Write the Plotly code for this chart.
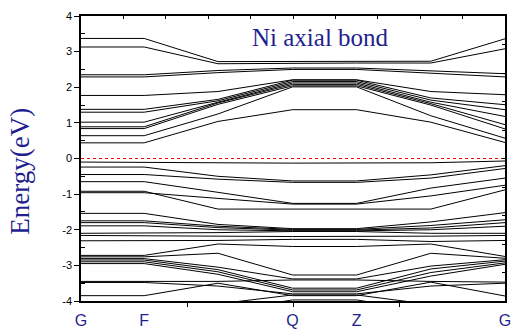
import plotly.graph_objects as go

# High-symmetry path (normalised k distance) and its labels
k_path = [0.0, 0.149, 0.323, 0.499, 0.650, 0.825, 1.0]
k_label_pos = [0.0, 0.149, 0.499, 0.650, 1.0]
k_label_txt = ["G", "F", "Q", "Z", "G"]

# Conduction bands (eV) at each point of k_path
c1 = [3.37, 3.37, 2.72, 2.73, 2.73, 2.73, 3.36]
c2 = [3.13, 3.13, 2.66, 2.68, 2.68, 2.68, 3.08]
c3 = [2.35, 2.35, 2.47, 2.54, 2.54, 2.46, 2.38]
c4 = [2.29, 2.29, 2.41, 2.50, 2.50, 2.40, 2.29]
c5 = [1.77, 1.77, 1.88, 2.21, 2.21, 1.88, 1.79]
c6 = [1.38, 1.38, 1.66, 2.20, 2.20, 1.70, 1.51]
c7 = [1.30, 1.30, 1.62, 2.16, 2.16, 1.64, 1.37]
c8 = [1.02, 1.02, 1.58, 2.12, 2.12, 1.58, 1.18]
c9 = [0.89, 0.89, 1.56, 2.08, 2.08, 1.54, 0.95]
c10 = [0.84, 0.84, 1.52, 2.04, 2.04, 1.50, 0.83]
c11 = [0.64, 0.64, 1.25, 2.01, 2.01, 1.20, 0.57]
c12 = [0.44, 0.44, 1.04, 1.37, 1.37, 1.02, 0.45]

# Valence bands (eV)
v1 = [-0.10, -0.10, -0.12, -0.13, -0.13, -0.12, -0.07]
v2 = [-0.24, -0.24, -0.50, -0.63, -0.63, -0.46, -0.20]
v3 = [-0.45, -0.45, -0.58, -0.67, -0.67, -0.55, -0.28]
v4 = [-0.65, -0.65, -0.95, -1.26, -1.26, -0.83, -0.55]
v5 = [-0.92, -0.92, -1.42, -1.42, -1.42, -1.42, -0.88]
v6 = [-0.96, -0.96, -1.12, -1.28, -1.28, -1.05, -0.75]
v7 = [-1.54, -1.54, -1.85, -1.97, -1.97, -1.78, -1.52]
v8 = [-1.75, -1.75, -1.90, -1.99, -1.99, -1.88, -1.72]
v9 = [-1.80, -1.80, -1.94, -2.01, -2.01, -1.95, -1.80]
v10 = [-1.89, -1.89, -2.00, -2.03, -2.03, -2.00, -1.90]
v11 = [-2.10, -2.10, -2.08, -2.05, -2.05, -2.10, -2.10]
v12 = [-2.16, -2.16, -2.18, -2.19, -2.19, -2.18, -2.16]
v13 = [-2.31, -2.31, -2.30, -2.27, -2.27, -2.33, -2.30]
v14 = [-2.72, -2.72, -2.40, -2.47, -2.47, -2.40, -2.75]
v15 = [-2.76, -2.76, -2.66, -3.27, -3.27, -2.66, -2.80]
v16 = [-2.81, -2.81, -3.05, -3.38, -3.38, -3.02, -2.84]
v17 = [-2.85, -2.85, -3.12, -3.64, -3.64, -3.10, -2.88]
v18 = [-2.90, -2.90, -3.18, -3.69, -3.69, -3.20, -2.93]
v19 = [-2.95, -2.95, -3.25, -3.74, -3.74, -3.30, -2.97]
v20 = [-3.45, -3.45, -3.45, -3.41, -3.41, -3.45, -3.47]
v21 = [-3.48, -3.48, -3.58, -3.80, -3.80, -3.58, -3.50]
v22 = [-3.85, -3.85, -3.50, -3.85, -3.85, -3.47, -3.86]
v23 = [-4.30, -4.30, -4.08, -3.83, -3.83, -4.10, -4.30]
v24 = [-4.50, -4.50, -4.30, -3.97, -3.97, -4.30, -4.50]

bands = [c1, c2, c3, c4, c5, c6, c7, c8, c9, c10, c11, c12,
         v1, v2, v3, v4, v5, v6, v7, v8, v9, v10, v11, v12,
         v13, v14, v15, v16, v17, v18, v19, v20, v21, v22, v23, v24]

y_ticks = [4, 3, 2, 1, 0, -1, -2, -3, -4]
y_tick_txt = ["4", "3", "2", "1", "0", "-1", "-2", "-3", "-4"]
fermi_level = 0.0

navy = "#1f1f8f"

fig = go.Figure()
for e in bands:
    fig.add_trace(go.Scatter(x=k_path, y=e, mode="lines",
                             line=dict(color="black", width=1),
                             hoverinfo="skip", showlegend=False))

# Fermi level
fig.add_trace(go.Scatter(x=[0, 1], y=[fermi_level, fermi_level], mode="lines",
                         line=dict(color="red", width=1, dash="dot"),
                         hoverinfo="skip", showlegend=False))

# helper trace so the top / right frame axes get drawn
fig.add_trace(go.Scatter(x=[0, 1], y=[0, 0], xaxis="x2", yaxis="y2",
                         mode="lines", line=dict(width=0), opacity=0,
                         hoverinfo="skip", showlegend=False))

fig.update_layout(
    width=512, height=329,
    margin=dict(l=81, r=7, t=16, b=28),
    paper_bgcolor="white", plot_bgcolor="white",
    xaxis=dict(range=[0, 1], tickmode="array", tickvals=k_label_pos,
               ticktext=k_label_txt, ticks="", showgrid=False, zeroline=False,
               automargin=False,
               showline=True, linecolor="black", linewidth=1.5,
               tickfont=dict(family="Liberation Sans, Arial", size=16, color=navy),
               ticklabelstandoff=4,
               minor=dict(tickmode="array", tickvals=[0.25, 0.5, 0.75],
                          ticks="outside", ticklen=4, tickcolor="black",
                          showgrid=False)),
    yaxis=dict(range=[-4, 4], tickmode="array", tickvals=y_ticks,
               ticktext=y_tick_txt, ticks="outside", ticklen=5,
               tickcolor="black", showgrid=False, zeroline=False,
               automargin=False,
               showline=True, linecolor="black", linewidth=1.5,
               tickfont=dict(family="Liberation Sans, Arial", size=11, color="black"),
               minor=dict(tickmode="linear", tick0=0.5, dtick=1.0,
                          ticks="inside", ticklen=4, tickcolor="black",
                          showgrid=False)),
    xaxis2=dict(range=[0, 1], overlaying="x", side="top", anchor="y",
                tickmode="linear", tick0=0, dtick=0.1, ticks="inside",
                ticklen=3, tickcolor="black", showticklabels=False,
                showgrid=False, zeroline=False, showline=True,
                automargin=False,
                linecolor="black", linewidth=1.5),
    yaxis2=dict(range=[-4, 4], overlaying="y", side="right", anchor="x",
                tickmode="linear", tick0=0, dtick=0.8, ticks="inside",
                ticklen=3, tickcolor="black", showticklabels=False,
                showgrid=False, zeroline=False, showline=True,
                automargin=False,
                linecolor="black", linewidth=1.5),
    annotations=[
        dict(text="Ni axial bond", xref="paper", yref="paper",
             x=0.564, y=0.924, xanchor="center", yanchor="middle",
             showarrow=False,
             font=dict(family="Liberation Serif, Times New Roman", size=25, color=navy)),
        dict(text="Energy(eV)", xref="paper", yref="paper",
             x=-0.144, y=0.457, xanchor="center", yanchor="middle",
             textangle=-90, showarrow=False,
             font=dict(family="Liberation Serif, Times New Roman", size=27, color=navy)),
    ],
)

fig.write_html("out.html")
